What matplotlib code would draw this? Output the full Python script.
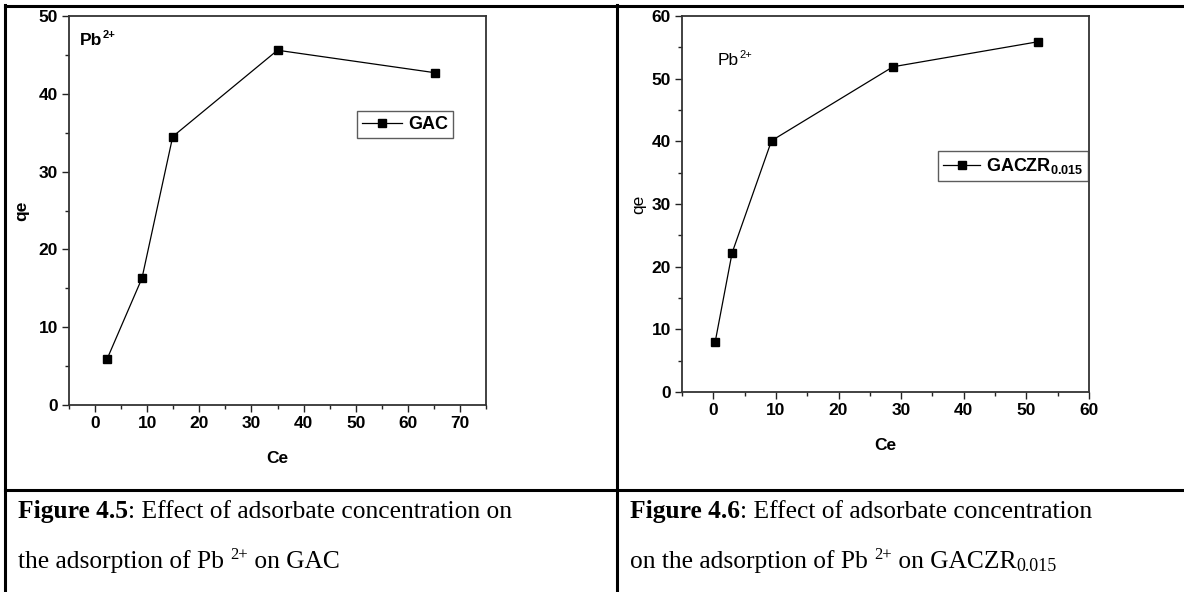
import matplotlib
matplotlib.use("Agg")
import matplotlib.pyplot as plt
from matplotlib.lines import Line2D
from matplotlib.ticker import MultipleLocator

plt.rcParams['font.family'] = ['Liberation Sans', 'DejaVu Sans']
plt.rcParams['mathtext.fontset'] = 'custom'
plt.rcParams['mathtext.rm'] = 'Liberation Sans'
plt.rcParams['mathtext.bf'] = 'Liberation Sans:bold'
plt.rcParams['mathtext.default'] = 'regular'

# isotherm data, Pb2+ on GAC
ce_gac = [2.3, 9.0, 14.9, 35.0, 65.3]
qe_gac = [5.9, 16.3, 34.5, 45.6, 42.7]

# isotherm data, Pb2+ on GACZR0.015
ce_gaczr = [0.3, 3.0, 9.3, 28.7, 51.9]
qe_gaczr = [8.0, 22.2, 40.1, 51.9, 55.9]

W, H = 1184, 592
fig = plt.figure(figsize=(W / 100, H / 100), dpi=100)
fig.canvas.draw()
renderer = fig.canvas.get_renderer()


def px_axes(x0, y0, x1, y1):
    # axes box given in pixel coords measured from top-left
    return fig.add_axes([x0 / W, 1 - y1 / H, (x1 - x0) / W, (y1 - y0) / H])


def style_axes(ax, xlim, ylim, xmaj, ymaj):
    ax.set_xlim(*xlim)
    ax.set_ylim(*ylim)
    ax.xaxis.set_major_locator(MultipleLocator(xmaj))
    ax.xaxis.set_minor_locator(MultipleLocator(xmaj / 2))
    ax.yaxis.set_major_locator(MultipleLocator(ymaj))
    ax.yaxis.set_minor_locator(MultipleLocator(ymaj / 2))
    ax.tick_params(which='both', direction='out', top=False, right=False,
                   width=1.0, color='#222222')
    ax.tick_params(which='major', length=5, pad=3, labelsize=12.5)
    ax.tick_params(which='minor', length=3)
    for lab in ax.get_xticklabels() + ax.get_yticklabels():
        lab.set_fontweight('bold')
    for sp in ax.spines.values():
        sp.set_linewidth(1.3)
        sp.set_color('#333333')


def runs(x, y, parts, family, base):
    # draw text pieces one after another along a baseline (pixels from top-left)
    for s, kw in parts:
        size = kw.get('size', base)
        dy = kw.get('dy', 0)
        t = fig.text(x / W, 1 - (y - dy) / H, s, fontsize=size,
                     family=family, fontweight=kw.get('weight', 'normal'),
                     va='baseline', ha='left')
        x += t.get_window_extent(renderer).width


sans = ['Liberation Sans', 'DejaVu Sans']
serif = ['Liberation Serif', 'DejaVu Serif']

# left panel
ax1 = px_axes(69, 16, 486, 405)
ax1.plot(ce_gac, qe_gac, color='black', lw=0.9, marker='s', ms=5.5,
         label='GAC')
style_axes(ax1, (-5, 75), (0, 50), 10, 10)
ax1.set_xlabel('Ce', fontsize=12.5, fontweight='bold', labelpad=14)
ax1.set_ylabel('qe', fontsize=12.5, fontweight='bold', labelpad=7)
runs(80, 45, [('Pb', {'weight': 'bold'}),
              ('2+', {'weight': 'bold', 'size': 8, 'dy': 7})], sans, 12.5)
leg1 = ax1.legend(loc='upper left', bbox_to_anchor=(0.691, 0.756),
                  borderaxespad=0, fancybox=False, handlelength=2.2,
                  prop={'weight': 'bold', 'size': 13}, borderpad=0.28,
                  handletextpad=0.35)
leg1.get_frame().set_edgecolor('#333333')
leg1.get_frame().set_linewidth(1.0)

# right panel
ax2 = px_axes(682, 16, 1089, 392)
ax2.plot(ce_gaczr, qe_gaczr, color='black', lw=0.9, marker='s', ms=5.5,
         label=r'GACZR$_{0.015}$')
style_axes(ax2, (-5, 60), (0, 60), 10, 10)
ax2.set_xlabel('Ce', fontsize=12.5, fontweight='bold', labelpad=14)
ax2.set_ylabel('qe', fontsize=12.5, labelpad=4)
runs(718, 65, [('Pb', {}), ('2+', {'size': 8, 'dy': 7})], sans, 12.5)
leg2 = ax2.legend(loc='upper left', bbox_to_anchor=(0.63, 0.64),
                  borderaxespad=0, fancybox=False, handlelength=2.0,
                  prop={'weight': 'bold', 'size': 13}, borderpad=0.28,
                  handletextpad=0.35)
leg2.get_frame().set_edgecolor('#333333')
leg2.get_frame().set_linewidth(1.0)

# table rules around the two figures and their captions
rules = [((5, 1184), (6, 6)), ((5, 5), (5, 592)), ((617, 617), (5, 592)),
         ((5, 1184), (490, 490))]
for xs, ys in rules:
    fig.add_artist(Line2D([x / W for x in xs], [1 - y / H for y in ys],
                          transform=fig.transFigure, color='black', lw=2.2))

CAP = 18.4
runs(18, 518, [('Figure 4.5', {'weight': 'bold'}),
               (': Effect of adsorbate concentration on', {})], serif, CAP)
runs(18, 568, [('the adsorption of Pb ', {}),
               ('2+', {'size': 12, 'dy': 9}),
               (' on GAC', {})], serif, CAP)
runs(630, 518, [('Figure 4.6', {'weight': 'bold'}),
                (': Effect of adsorbate concentration', {})], serif, CAP)
runs(630, 568, [('on the adsorption of Pb ', {}),
                ('2+', {'size': 12, 'dy': 9}),
                (' on GACZR', {}),
                ('0.015', {'size': 13, 'dy': -3})], serif, CAP)

fig.savefig('out.png', dpi=100)
